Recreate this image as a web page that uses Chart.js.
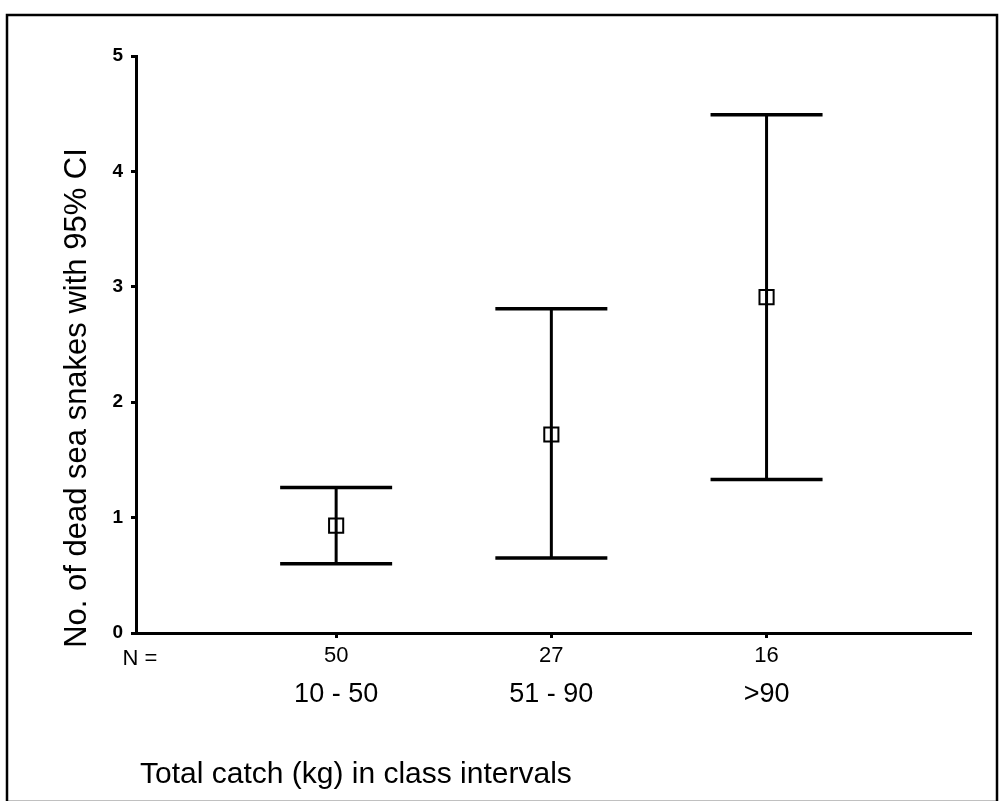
<!DOCTYPE html>
<html>
<head>
<meta charset="utf-8">
<title>Dead sea snakes by total catch</title>
<script src="https://cdn.jsdelivr.net/npm/chart.js@4.4.1/dist/chart.umd.min.js"></script>
<style>
  html, body { margin: 0; padding: 0; background: #fff; }
  canvas { display: block; }
</style>
</head>
<body>
<canvas id="chart" width="999" height="801"></canvas>
<script>
// Catch classes and sample sizes
const categories = ['10 - 50', '51 - 90', '>90'];
const sampleSizes = ['50', '27', '16'];

// Mean number of dead sea snakes and its 95% confidence interval
const means   = [0.93, 1.72, 2.91];
const ciLower = [0.60, 0.65, 1.33];
const ciUpper = [1.26, 2.81, 4.49];

// Value axis ticks
const yTicks = [0, 1, 2, 3, 4, 5];

const FONT = "'Liberation Sans', Arial, Helvetica, sans-serif";
const yTitle = 'No. of dead sea snakes with 95% CI';
const xTitle = 'Total catch (kg) in class intervals';

// White page and thin frame around the figure
const pagePlugin = {
  id: 'page',
  beforeDraw(chart) {
    const ctx = chart.ctx;
    ctx.save();
    ctx.fillStyle = '#fff';
    ctx.fillRect(0, 0, chart.width, chart.height);
    ctx.restore();
  },
  afterDraw(chart) {
    const ctx = chart.ctx;
    ctx.save();
    ctx.strokeStyle = '#000';
    ctx.lineWidth = 2.5;
    ctx.strokeRect(7, 15, chart.width - 9, chart.height - 14);
    ctx.restore();
  }
};

// Vertical CI lines with horizontal caps, drawn under the mean markers
const errorBarPlugin = {
  id: 'errorBars',
  beforeDatasetsDraw(chart) {
    const { ctx, scales: { x, y } } = chart;
    const capHalf = 56;
    ctx.save();
    ctx.strokeStyle = '#000';
    ctx.lineCap = 'butt';
    categories.forEach((c, i) => {
      const px = x.getPixelForValue(i + 1);
      const yLo = y.getPixelForValue(ciLower[i]);
      const yHi = y.getPixelForValue(ciUpper[i]);
      ctx.lineWidth = 3;
      ctx.beginPath();
      ctx.moveTo(px, yLo);
      ctx.lineTo(px, yHi);
      ctx.stroke();
      ctx.lineWidth = 3.5;
      ctx.beginPath();
      ctx.moveTo(px - capHalf, yHi);
      ctx.lineTo(px + capHalf, yHi);
      ctx.moveTo(px - capHalf, yLo);
      ctx.lineTo(px + capHalf, yLo);
      ctx.stroke();
    });
    ctx.restore();
  }
};

// Category names, "N =" row label and axis titles
const labelPlugin = {
  id: 'axisText',
  afterDraw(chart) {
    const { ctx, scales: { x, y } } = chart;
    ctx.save();
    ctx.fillStyle = '#000';
    ctx.textBaseline = 'middle';

    ctx.font = '22px ' + FONT;
    ctx.textAlign = 'center';
    ctx.fillText('N =', x.left + 4, 659);

    ctx.font = '27px ' + FONT;
    categories.forEach((c, i) => {
      ctx.fillText(c, x.getPixelForValue(i + 1), 695);
    });

    ctx.font = '30px ' + FONT;
    ctx.textAlign = 'left';
    ctx.textBaseline = 'alphabetic';
    ctx.fillText(xTitle, 140, 783);

    ctx.translate(77, 398);
    ctx.rotate(-Math.PI / 2);
    ctx.font = '31px ' + FONT;
    ctx.textAlign = 'center';
    ctx.textBaseline = 'middle';
    ctx.fillText(yTitle, 0, 0);
    ctx.restore();
  }
};

new Chart(document.getElementById('chart'), {
  type: 'scatter',
  data: {
    datasets: [{
      label: 'Mean',
      data: means.map((m, i) => ({ x: i + 1, y: m })),
      pointStyle: 'rect',
      pointRadius: 10,
      pointHoverRadius: 10,
      borderWidth: 2,
      borderColor: '#000',
      backgroundColor: 'rgba(0,0,0,0)',
      showLine: false
    }]
  },
  options: {
    responsive: false,
    animation: false,
    devicePixelRatio: 1,
    layout: { padding: { top: 56, right: 28, left: 0, bottom: 0 } },
    plugins: {
      legend: { display: false },
      tooltip: { enabled: false }
    },
    scales: {
      x: {
        type: 'linear',
        min: 0.07,
        max: 3.95,
        afterBuildTicks: s => { s.ticks = categories.map((c, i) => ({ value: i + 1 })); },
        afterFit: s => { s.height = 168; },
        ticks: {
          callback: (v, i) => sampleSizes[i],
          font: { family: FONT, size: 22 },
          color: '#000',
          padding: 5,
          maxRotation: 0,
          autoSkip: false
        },
        grid: {
          drawOnChartArea: false,
          drawTicks: true,
          tickLength: 5,
          tickWidth: 3,
          color: '#000'
        },
        border: { display: true, color: '#000', width: 3 }
      },
      y: {
        min: 0,
        max: 5,
        afterBuildTicks: s => { s.ticks = yTicks.map(v => ({ value: v })); },
        afterFit: s => { s.width = 136; },
        ticks: {
          font: { family: FONT, size: 19, weight: 'bold' },
          color: '#000',
          padding: 8
        },
        grid: {
          drawOnChartArea: false,
          drawTicks: true,
          tickLength: 5,
          tickWidth: 3,
          color: '#000'
        },
        border: { display: true, color: '#000', width: 3 }
      }
    }
  },
  plugins: [pagePlugin, errorBarPlugin, labelPlugin]
});
</script>
</body>
</html>
